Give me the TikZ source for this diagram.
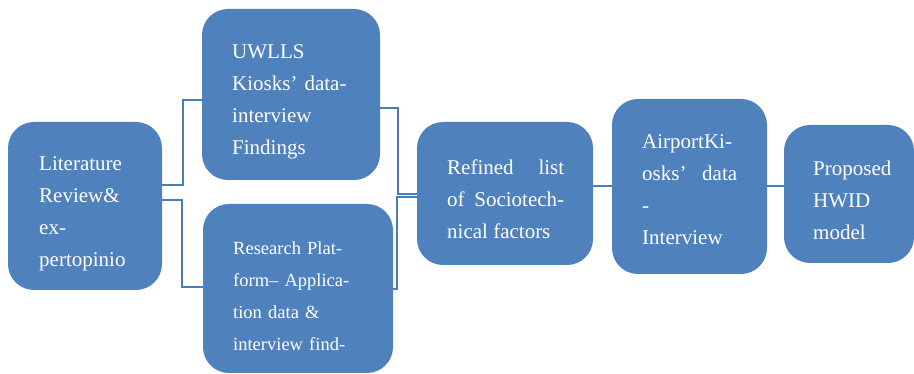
\documentclass[tikz,border=0pt]{standalone}
\usepackage{fontspec}
\setmainfont{Liberation Serif}
\definecolor{boxblue}{HTML}{4F81BD}
\definecolor{lineblue}{HTML}{4A7EBB}
\tikzset{
  box/.style={rectangle, rounded corners=26pt, fill=boxblue, draw=none, inner sep=0pt},
  txt/.style={text=white, inner sep=0pt, anchor=north west, align=left, text width=#1,
              font=\fontsize{21}{32}\selectfont},
  txtj/.style={txt=#1, align=justify},
  conn/.style={draw=lineblue, line width=1.5pt}
}
\begin{document}
\begin{tikzpicture}[x=1pt,y=-1pt]
\useasboundingbox (0,0) rectangle (914,374);
% boxes
\node[box, minimum width=154pt, minimum height=168pt] (lit) at (85,206) {};
\node[box, minimum width=178pt, minimum height=171pt] (uw) at (291,94.5) {};
\node[box, minimum width=190pt, minimum height=169pt] (res) at (298,288.5) {};
\node[box, minimum width=176pt, minimum height=143pt] (ref) at (505,193.5) {};
\node[box, minimum width=155pt, minimum height=175pt] (air) at (689.5,186.5) {};
\node[box, minimum width=130pt, minimum height=138pt] (prop) at (849,194) {};
% texts
\node[txt=110pt] (litt) at (39,156) {Literature\\Review\&\\ex-\\pertopinio};
\node[txt=130pt] (uwt) at (232,44) {UWLLS\\Kiosks’ data-\\interview\\Findings};
\node[txt=140pt, font=\fontsize{18.5}{32}\selectfont] (rest) at (233,241) {Research Plat-\\form– Applica-\\tion data \&\\interview find-};
\node[txtj=117pt] (reft) at (447,160) {Refined list\linebreak of Sociotech-\linebreak nical factors};
\node[txtj=95pt] (airt) at (642,134) {AirportKi-\\osks’ data\linebreak -\\Interview};
\node[txt=100pt] (propt) at (813,161) {Proposed\\HWID\\model};
% connectors
\draw[conn] (lit.east |- 0,185) -- (183,185) |- (uw.west |- 0,100);
\draw[conn] (lit.east |- 0,200) -- (182,200) |- (res.west |- 0,287);
\draw[conn] (uw.east |- 0,108) -- (398,108) |- (ref.west |- 0,194);
\draw[conn] (res.east |- 0,289) -- (397,289) |- (ref.west |- 0,197);
\draw[conn] (ref.east |- 0,186) -- (air.west |- 0,186);
\draw[conn] (air.east |- 0,186) -- (prop.west |- 0,186);
\end{tikzpicture}
\end{document}
